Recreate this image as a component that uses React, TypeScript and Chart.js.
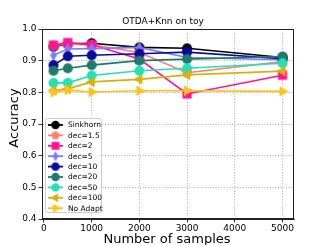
import React, { useEffect, useRef } from "react";
import { Chart, registerables } from "chart.js";

Chart.register(...registerables);

const samples = [200, 500, 1000, 2000, 3000, 5000];
const seriesNames = ["Sinkhorn", "dec=1.5", "dec=2", "dec=5", "dec=10", "dec=20", "dec=50", "dec=100", "No Adapt"];
const sinkhorn = [0.944, 0.953, 0.955, 0.942, 0.939, 0.910];
const dec1_5 = [0.948, 0.953, 0.950, 0.926, 0.862, 0.897];
const dec2 = [0.949, 0.957, 0.950, 0.905, 0.795, 0.854];
const dec5 = [0.917, 0.937, 0.938, 0.942, 0.910, 0.903];
const dec10 = [0.886, 0.914, 0.917, 0.922, 0.927, 0.906];
const dec20 = [0.868, 0.876, 0.886, 0.900, 0.905, 0.913];
const dec50 = [0.830, 0.830, 0.853, 0.868, 0.876, 0.892];
const dec100 = [0.806, 0.811, 0.833, 0.841, 0.855, 0.867];
const noAdapt = [0.800, 0.807, 0.801, 0.805, 0.805, 0.803];
const xTicks = [0, 1000, 2000, 3000, 4000, 5000];
const yTicks = [0.4, 0.5, 0.6, 0.7, 0.8, 0.9, 1.0];

const seriesValues = [sinkhorn, dec1_5, dec2, dec5, dec10, dec20, dec50, dec100, noAdapt];
const seriesColors = ["#000000", "#fa8072", "#ff1493", "#7b7bff", "#0a0a9a", "#1e7b6c", "#25e0b4", "#d4b20a", "#ffc21a"];
const seriesShapes = ["circle", "pentagon", "square", "thindiamond", "circle", "circle", "circle", "triLeft", "triRight"];

function makeMarker(shape: string, color: string, scale: number): HTMLCanvasElement {
  const size = 16;
  const c = document.createElement("canvas");
  c.width = size;
  c.height = size;
  const ctx = c.getContext("2d")!;
  const cx = size / 2;
  const cy = size / 2;
  ctx.fillStyle = color;
  ctx.beginPath();
  const poly = (n: number, r: number, rot: number) => {
    for (let i = 0; i < n; i++) {
      const a = rot + (i * 2 * Math.PI) / n;
      const x = cx + r * Math.cos(a);
      const y = cy + r * Math.sin(a);
      if (i === 0) ctx.moveTo(x, y);
      else ctx.lineTo(x, y);
    }
    ctx.closePath();
  };
  if (shape === "circle") {
    ctx.arc(cx, cy, 5 * scale, 0, Math.PI * 2);
  } else if (shape === "pentagon") {
    poly(5, 5.4 * scale, -Math.PI / 2);
  } else if (shape === "square") {
    const h = 4.6 * scale;
    ctx.rect(cx - h, cy - h, 2 * h, 2 * h);
  } else if (shape === "thindiamond") {
    const w = 3.4 * scale;
    const h = 6 * scale;
    ctx.moveTo(cx, cy - h);
    ctx.lineTo(cx + w, cy);
    ctx.lineTo(cx, cy + h);
    ctx.lineTo(cx - w, cy);
    ctx.closePath();
  } else if (shape === "triLeft") {
    poly(3, 6 * scale, Math.PI);
  } else if (shape === "triRight") {
    poly(3, 6 * scale, 0);
  }
  ctx.fill();
  return c;
}

export default function App() {
  const ref = useRef<HTMLCanvasElement | null>(null);

  useEffect(() => {
    document.body.style.margin = "0";
    const canvas = ref.current!;
    const markers = seriesShapes.map((s, i) => makeMarker(s, seriesColors[i], 1));
    const legendMarkers = seriesShapes.map((s, i) => makeMarker(s, seriesColors[i], 0.85));

    const PLOT_L = 42;
    const PLOT_R = 294;
    const PLOT_T = 29;
    const PLOT_B = 219;

    const decorPlugin = {
      id: "decor",
      afterDraw(chart: any) {
        const ctx = chart.ctx;
        const a = chart.chartArea;
        ctx.save();
        ctx.strokeStyle = "#222";
        ctx.lineWidth = 1;
        ctx.strokeRect(a.left + 0.5, a.top + 0.5, a.right - a.left - 1, a.bottom - a.top - 1);
        ctx.fillStyle = "#000";
        ctx.font = "9px 'DejaVu Sans'";
        ctx.textAlign = "center";
        ctx.textBaseline = "alphabetic";
        ctx.fillText("OTDA+Knn on toy", 163, 24);
        ctx.font = "13px 'DejaVu Sans'";
        ctx.fillText("Number of samples", 167, 243);
        ctx.save();
        ctx.translate(18, 118);
        ctx.rotate(-Math.PI / 2);
        ctx.fillText("Accuracy", 0, 0);
        ctx.restore();
        const lx = 45;
        const ly = 118;
        const lw = 56;
        const lh = 94;
        ctx.fillStyle = "rgba(255,255,255,0.85)";
        ctx.strokeStyle = "#cccccc";
        ctx.lineWidth = 1;
        ctx.beginPath();
        if (ctx.roundRect) ctx.roundRect(lx + 0.5, ly + 0.5, lw, lh, 2);
        else ctx.rect(lx + 0.5, ly + 0.5, lw, lh);
        ctx.fill();
        ctx.stroke();
        ctx.font = "7.5px 'DejaVu Sans'";
        ctx.textAlign = "left";
        ctx.textBaseline = "middle";
        for (let i = 0; i < seriesNames.length; i++) {
          const y = ly + 7 + i * 10.4;
          ctx.strokeStyle = seriesColors[i];
          ctx.lineWidth = 1.8;
          ctx.beginPath();
          ctx.moveTo(lx + 3, y);
          ctx.lineTo(lx + 18, y);
          ctx.stroke();
          const m = legendMarkers[i];
          ctx.drawImage(m, lx + 10.5 - m.width / 2, y - m.height / 2);
          ctx.fillStyle = "#000";
          ctx.fillText(seriesNames[i], lx + 23, y + 0.5);
        }
        ctx.restore();
      },
    };

    const gridColorX = (c: any) => (c.tick && c.tick.value === 0 ? "rgba(0,0,0,0)" : "#a8a8a8");
    const gridColorY = (c: any) =>
      c.tick && (Math.abs(c.tick.value - 0.4) < 1e-9 || Math.abs(c.tick.value - 1.0) < 1e-9)
        ? "rgba(0,0,0,0)"
        : "#a8a8a8";

    const chart = new Chart(canvas, {
      type: "line",
      data: {
        datasets: seriesNames.map((name, i) => ({
          label: name,
          data: samples.map((x, j) => ({ x, y: seriesValues[i][j] })),
          borderColor: seriesColors[i],
          backgroundColor: seriesColors[i],
          borderWidth: 1.6,
          pointStyle: markers[i] as any,
          pointRadius: 5,
          order: seriesNames.length - i,
          tension: 0,
        })),
      },
      options: {
        animation: false,
        responsive: false,
        maintainAspectRatio: false,
        events: [],
        layout: { padding: { left: 0, right: 327 - PLOT_R, top: PLOT_T, bottom: 0 } },
        plugins: {
          legend: { display: false },
          title: { display: false },
          tooltip: { enabled: false },
        },
        scales: {
          x: {
            type: "linear",
            min: -40,
            max: 5240,
            afterBuildTicks: (s: any) => {
              s.ticks = xTicks.map((v) => ({ value: v }));
            },
            afterFit: (s: any) => {
              s.height = 245 - PLOT_B;
            },
            ticks: {
              color: "#000",
              font: { family: "'DejaVu Sans'", size: 9 },
              padding: 1,
              maxRotation: 0,
              autoSkip: false,
              callback: (v: any) => String(v),
            },
            grid: {
              color: gridColorX,
              lineWidth: 0.9,
              tickColor: "#222",
              tickLength: 3.5,
              tickBorderDash: [],
              drawTicks: true,
            } as any,
            border: { display: true, color: "#222", width: 1, dash: [1, 1.7] } as any,
          },
          y: {
            type: "linear",
            min: 0.4,
            max: 1.0,
            afterBuildTicks: (s: any) => {
              s.ticks = yTicks.map((v) => ({ value: v }));
            },
            afterFit: (s: any) => {
              s.width = PLOT_L;
            },
            ticks: {
              color: "#000",
              font: { family: "'DejaVu Sans'", size: 9 },
              padding: 2,
              autoSkip: false,
              callback: (v: any) => Number(v).toFixed(1),
            },
            grid: {
              color: gridColorY,
              lineWidth: 0.9,
              tickColor: "#222",
              tickLength: 3.5,
              tickBorderDash: [],
              drawTicks: true,
            } as any,
            border: { display: true, color: "#222", width: 1, dash: [1, 1.7] } as any,
          },
        },
      } as any,
      plugins: [decorPlugin],
    });

    return () => chart.destroy();
  }, []);

  return (
    <div style={{ position: "fixed", left: 0, top: 0, width: 327, height: 245 }}>
      <canvas ref={ref} width={327} height={245} style={{ width: 327, height: 245 }} />
    </div>
  );
}
